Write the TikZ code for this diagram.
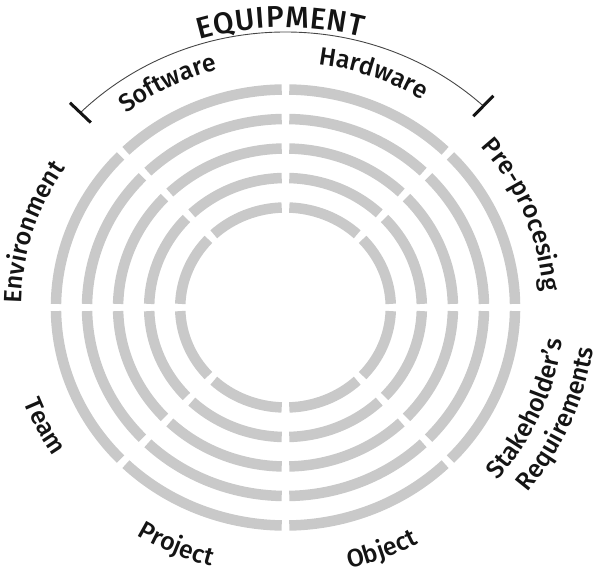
\documentclass[tikz,border=0pt]{standalone}
\usepackage{fontspec}
\setmainfont{Fira Sans}
\IfFontExistsTF{Fira Sans Medium}{\newfontfamily\lblfam{Fira Sans Medium}}{%
  \IfFontExistsTF{FiraSans-Medium}{\newfontfamily\lblfam{FiraSans-Medium}}{%
    \newcommand\lblfam{\bfseries}}}
\usetikzlibrary{decorations.text}
\definecolor{ringgray}{RGB}{201,201,201}
\definecolor{arcgray}{RGB}{70,70,70}
\definecolor{textblack}{RGB}{20,20,20}
\newcommand\lblfont{\lblfam\fontsize{25}{25}\selectfont}
\newcommand\eqfont{\lblfam\fontsize{30}{30}\selectfont}
\tikzset{
  ring/.style={draw=ringgray, line width=10.5pt},
  curvedlabel/.style={decorate, decoration={text along path, text align=center, text color=textblack, text={#1}}},
  arcline/.style={draw=arcgray, line width=0.9pt},
  tickline/.style={draw=textblack, line width=3pt},
}
\begin{document}
\begin{tikzpicture}[x=1pt,y=1pt]
\useasboundingbox (0,0) rectangle (596,575);
\coordinate (C) at (285.5,267.5);
\def\xs{1.053}
% rings
\foreach \r in {218,188.5,159,129.5,100}{
  \pgfmathsetmacro\d{3.6/\r*180/pi}
  \foreach \k in {0,...,7}{
    \pgfmathsetmacro\a{45*\k+\d}
    \pgfmathsetmacro\b{45*(\k+1)-\d}
    \pgfmathsetmacro\rx{\xs*\r}
    \draw[ring] (C) ++(\a:{\rx} and {\r}) arc[start angle=\a, end angle=\b, x radius=\rx, y radius=\r];
  }
}
% equipment arc and ticks
\draw[arcline] (C) ++(135:{\xs*275.5} and 275.5) coordinate (eqL) arc[start angle=135, end angle=47, x radius=\xs*275.5, y radius=275.5] coordinate (eqR);
\draw[tickline] (C) +(135:{\xs*261.5} and 261.5) coordinate (tL1) -- +(135:{\xs*289.5} and 289.5) coordinate (tL2);
\draw[tickline] (C) +(47:{\xs*261.5} and 261.5) coordinate (tR1) -- +(47:{\xs*289.5} and 289.5) coordinate (tR2);
% labels, upper half (clockwise)
\path[curvedlabel={|\eqfont|{E\kern0.8pt}{Q\kern0.8pt}{U\kern0.8pt}{I\kern0.8pt}{P\kern0.8pt}{M\kern0.8pt}{E\kern0.8pt}{N\kern0.8pt}T}]
  (C) ++(131:{\xs*280} and 280) arc[start angle=131, end angle=51, x radius=\xs*280, y radius=280];
\path[curvedlabel={|\lblfont|Software}]
  (C) ++(157:{\xs*246} and 246) arc[start angle=157, end angle=77, x radius=\xs*246, y radius=246];
\path[curvedlabel={|\lblfont|Hardware}]
  (C) ++(110:{\xs*245} and 245) arc[start angle=110, end angle=30, x radius=\xs*245, y radius=245];
\path[curvedlabel={|\lblfont|Pre-procesing}]
  (C) ++(62:{\xs*245} and 245) arc[start angle=62, end angle=-18, x radius=\xs*245, y radius=245];
\path[curvedlabel={|\lblfont|Environment}]
  (C) ++(203:{\xs*251} and 251) arc[start angle=203, end angle=123, x radius=\xs*251, y radius=251];
% labels, lower half (counter-clockwise)
\path[curvedlabel={|\lblfont|Team}]
  (C) ++(167:{\xs*266} and 266) arc[start angle=167, end angle=247, x radius=\xs*266, y radius=266];
\path[curvedlabel={|\lblfont|Project}]
  (C) ++(206:{\xs*268} and 268) arc[start angle=206, end angle=286, x radius=\xs*268, y radius=268];
\path[curvedlabel={|\lblfont|Object}]
  (C) ++(251:{\xs*268} and 268) arc[start angle=251, end angle=331, x radius=\xs*268, y radius=268];
\path[curvedlabel={|\lblfont|Stakeholder’s}]
  (C) ++(296.5:{\xs*265} and 265) arc[start angle=296.5, end angle=376.5, x radius=\xs*265, y radius=265];
\path[curvedlabel={|\lblfont|Requirements}]
  (C) ++(297:{\xs*295} and 295) arc[start angle=297, end angle=377, x radius=\xs*295, y radius=295];
\end{tikzpicture}
\end{document}
